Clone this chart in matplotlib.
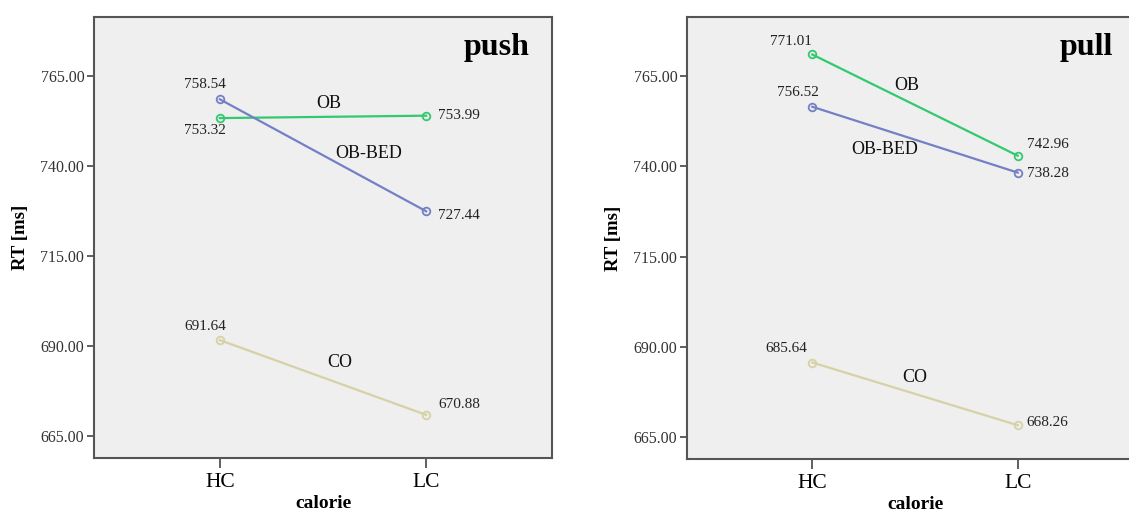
import matplotlib.pyplot as plt

# data
categories = ["HC", "LC"]
groups = ["OB", "OB-BED", "CO"]
push_ob = [753.32, 753.99]
push_obbed = [758.54, 727.44]
push_co = [691.64, 670.88]
pull_ob = [771.01, 742.96]
pull_obbed = [756.52, 738.28]
pull_co = [685.64, 668.26]
yticks = [665, 690, 715, 740, 765]

colors = {"OB": "#33c96e", "OB-BED": "#7480c6", "CO": "#d6d1a6"}
plt.rcParams['font.family'] = ['Liberation Serif', 'DejaVu Serif']

fig = plt.figure(figsize=(11.29, 5.15), dpi=100)
W, H = 1129, 515


def px_axes(x0, x1, y0, y1):
    return fig.add_axes([x0 / W, 1 - y1 / H, (x1 - x0) / W, (y1 - y0) / H])


def panel(ax, series, offsets, names, title, title_x):
    x = list(range(len(categories)))
    for g in groups:
        ax.plot(x, series[g], color=colors[g], lw=1.6, marker='o', ms=5.5,
                mfc='none', mew=1.3, zorder=3)
        for i, v in enumerate(series[g]):
            dx, dy = offsets[g][i]
            ha = 'left' if dx > 0 and i == 1 else 'center'
            ax.annotate(f"{v:.2f}", (i, v), xytext=(dx, -dy), textcoords='offset pixels',
                        ha=ha, va='center', fontsize=11, color='#222222')
    for g, (nx, ny) in names.items():
        ax.text(nx, ny, g, ha='center', va='center', fontsize=13, color='#111111')
    ax.text(title_x, 0.93, title, transform=ax.get_xaxis_transform(), ha='right',
            va='center', fontsize=23, fontweight='bold')
    ax.set_facecolor('#efefef')
    ax.set_xlim(-0.61, 1.61)
    ax.set_ylim(658.9, 781.4)
    ax.set_xticks(x)
    ax.set_xticklabels(categories, fontsize=15.5)
    ax.set_yticks(yticks)
    ax.set_yticklabels([f"{t:.2f}" for t in yticks], fontsize=11.5, color='#333333')
    ax.tick_params(direction='out', length=5, width=1.2, color='#444444', pad=2)
    ax.tick_params(axis='x', length=7, pad=4)
    for s in ax.spines.values():
        s.set_color('#555555')
        s.set_linewidth(1.5)
    ax.set_ylabel("RT [ms]", fontsize=13.5, fontweight='bold', labelpad=8)
    ax.set_xlabel("calorie", fontsize=14, fontweight='bold', labelpad=2)


ax1 = px_axes(94, 552, 17, 458)
panel(ax1,
      {"OB": push_ob, "OB-BED": push_obbed, "CO": push_co},
      {"OB": [(-15, 12), (12, 0)], "OB-BED": [(-15, -15), (12, 4)],
       "CO": [(-15, -14), (12, -10)]},
      {"OB": (0.53, 757.5), "OB-BED": (0.72, 743.6), "CO": (0.58, 685.3)},
      "push", 1.5)

ax2 = px_axes(687, 1143, 17, 459)
panel(ax2,
      {"OB": pull_ob, "OB-BED": pull_obbed, "CO": pull_co},
      {"OB": [(-21, -13), (9, -11)], "OB-BED": [(-14, -14), (9, 1)],
       "CO": [(-26, -14), (9, -3)]},
      {"OB": (0.46, 762.5), "OB-BED": (0.35, 744.7), "CO": (0.5, 681.4)},
      "pull", 1.466)

fig.savefig("out.png", dpi=100)
